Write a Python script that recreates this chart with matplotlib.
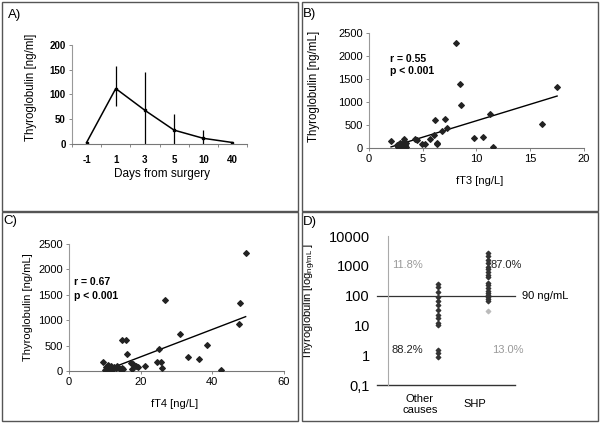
import matplotlib
matplotlib.use('Agg')
import matplotlib.pyplot as plt
from matplotlib.lines import Line2D
import matplotlib.transforms as mtransforms

plt.rcParams['font.family'] = ['Liberation Sans', 'DejaVu Sans']
plt.rcParams['mathtext.fontset'] = 'custom'
plt.rcParams['mathtext.rm'] = 'Liberation Sans'

# A) Tg after surgery
days = ['-1', '1', '3', '5', '10', '40']
tg_mean = [3, 112, 68, 28, 11.5, 3]
tg_low = [3, 76, 0, 0, 0, 3]
tg_high = [3, 157, 145, 60, 28, 3]

# B) fT3 vs Tg
ft3 = [2.05, 2.6, 2.7, 2.8, 2.85, 2.9, 3.0, 3.0, 3.1, 3.15, 3.2, 3.25, 3.3, 3.35, 3.4, 3.45,
       3.3, 4.3, 4.5, 4.9, 5.2, 5.7, 6.05, 6.1, 6.3, 6.35, 6.75, 7.05, 7.3, 8.05, 8.47, 8.6,
       9.8, 10.6, 11.3, 11.5, 16.1, 17.45]
tg_b = [150, 60, 30, 80, 20, 100, 50, 10, 70, 120, 40, 90, 20, 60, 110, 30,
        190, 200, 165, 85, 95, 195, 275, 610, 120, 90, 370, 630, 425, 2290, 1390, 935,
        225, 245, 740, 15, 515, 1330]
trend_b_x = [2.05, 17.5]
trend_b_y = [25, 1130]

# C) fT4 vs Tg
ft4 = [9.6, 10.0, 10.3, 10.6, 10.9, 11.2, 11.5, 11.8, 12.2, 12.6, 13.0, 13.5, 14.2, 14.7, 14.8,
       15.0, 15.8, 16.1, 17.3, 17.5, 18.0, 18.6, 19.2, 21.2, 24.5, 25.1, 25.8, 25.9, 26.8,
       31.0, 33.3, 36.4, 38.5, 42.4, 47.5, 47.7, 49.3]
tg_c = [183, 20, 80, 40, 120, 10, 60, 100, 30, 70, 50, 90, 40, 610, 60,
        30, 610, 335, 150, 40, 130, 100, 70, 105, 183, 427, 183, 50, 1398,
        735, 270, 230, 506, 26, 931, 1345, 2317]
trend_c_x = [13.3, 49.3]
trend_c_y = [98, 1070]

# D) Tg by diagnosis (log scale)
groups = ['Other\ncauses', 'SHP']
tg_other = [245, 190, 135, 91, 68, 48, 33, 22.6, 17.5, 12.3, 10.3, 1.5, 1.2, 0.9]
tg_shp = [2630, 2140, 1550, 1210, 935, 760, 630, 490, 428, 257, 228, 177, 148, 126, 105, 91, 75, 66]
tg_shp_below = [31]
cutoff = 100
cutoff_label = '90 ng/mL'
pct_labels = ['11.8%', '87.0%', '88.2%', '13.0%']

fig = plt.figure(figsize=(6, 4.23), dpi=100)

# panel frames
frame = '#555555'
for x0, y0, w, h in [(0.003, 0.502, 0.494, 0.494), (0.503, 0.502, 0.494, 0.494),
                     (0.003, 0.004, 0.494, 0.494), (0.503, 0.004, 0.494, 0.494)]:
    fig.add_artist(plt.Rectangle((x0, y0), w, h, transform=fig.transFigure,
                                 fill=False, ec=frame, lw=1.0))

def style(ax):
    for s in ['top', 'right']:
        ax.spines[s].set_visible(False)
    ax.spines['left'].set_color('#999999')
    ax.spines['bottom'].set_color('#777777')
    ax.spines['left'].set_linewidth(0.8)
    ax.spines['bottom'].set_linewidth(0.8)
    ax.tick_params(length=2.5, width=0.6, color='#777777', labelsize=8, pad=2)

# ---- A
axA = fig.add_axes([0.12, 0.6596, 0.2917, 0.234])
style(axA)
xs = list(range(len(days)))
axA.vlines(xs, tg_low, tg_high, color='black', lw=0.9)
axA.plot(xs, tg_mean, color='black', lw=1.1, marker='s', ms=2)
axA.set_xlim(-0.5, len(days) - 0.5)
axA.set_ylim(0, 200)
axA.set_yticks([0, 50, 100, 150, 200])
axA.set_xticks(xs)
axA.set_xticklabels(days)
axA.set_xticks([i - 0.5 for i in range(len(days) + 1)], minor=True)
axA.tick_params(axis='x', which='major', length=0, pad=8)
axA.tick_params(axis='x', which='minor', length=2.5, color='#777777')
for lab in axA.get_xticklabels() + axA.get_yticklabels():
    lab.set_fontweight('bold')
    lab.set_fontsize(7)
axA.set_ylabel('Thyroglobulin [ng/ml]', fontsize=8.3)
axA.yaxis.set_label_coords(-0.2, 0.57)
axA.set_xlabel('Days from surgery', fontsize=8.5)
axA.xaxis.set_label_coords(0.517, -0.242)

# ---- B
axB = fig.add_axes([0.615, 0.650, 0.3583, 0.272])
style(axB)
axB.scatter(ft3, tg_b, marker='D', s=8, color='#222222', zorder=3)
axB.plot(trend_b_x, trend_b_y, color='black', lw=1.0)
axB.set_xlim(0, 20)
axB.set_ylim(0, 2500)
axB.set_xticks([0, 5, 10, 15, 20])
axB.set_yticks([0, 500, 1000, 1500, 2000, 2500])
axB.set_ylabel('Thyroglobulin [ng/mL]', fontsize=8.3)
axB.yaxis.set_label_coords(-0.228, 0.54)
axB.set_xlabel('fT3 [ng/L]', fontsize=8)
axB.xaxis.set_label_coords(0.516, -0.243)
axB.text(2.0, 1930, 'r = 0.55', fontsize=7.5, fontweight='bold', va='center')
axB.text(2.0, 1680, 'p < 0.001', fontsize=7.5, fontweight='bold', va='center')

# ---- C
axC = fig.add_axes([0.115, 0.1229, 0.3583, 0.3003])
style(axC)
axC.scatter(ft4, tg_c, marker='D', s=8, color='#222222', zorder=3)
axC.plot(trend_c_x, trend_c_y, color='black', lw=1.0)
axC.set_xlim(0, 60)
axC.set_ylim(0, 2500)
axC.set_xticks([0, 20, 40, 60])
axC.set_yticks([0, 500, 1000, 1500, 2000, 2500])
axC.set_ylabel('Thyroglobulin [ng/mL]', fontsize=8)
axC.yaxis.set_label_coords(-0.167, 0.50)
axC.set_xlabel('fT4 [ng/L]', fontsize=8)
axC.xaxis.set_label_coords(0.49, -0.22)
axC.text(1.4, 1745, 'r = 0.67', fontsize=7.5, fontweight='bold', va='center')
axC.text(1.4, 1483, 'p < 0.001', fontsize=7.5, fontweight='bold', va='center')

# ---- D
axD = fig.add_axes([0.6467, 0.0898, 0.2117, 0.3522])
for s in ['top', 'right', 'bottom']:
    axD.spines[s].set_visible(False)
axD.spines['left'].set_color('#aaaaaa')
axD.spines['left'].set_linewidth(0.8)
axD.set_yscale('log')
axD.set_ylim(0.1, 10000)
axD.set_xlim(0, 2.55)
axD.set_yticks([0.1, 1, 10, 100, 1000, 10000])
axD.set_yticklabels(['0,1', '1', '10', '100', '1000', '10000'])
axD.yaxis.set_minor_locator(matplotlib.ticker.NullLocator())
axD.tick_params(axis='y', length=0, labelsize=10.5, pad=13)
axD.set_xticks([])
axD.scatter([1] * len(tg_other), tg_other, marker='D', s=5, color='#333333', zorder=3)
axD.scatter([2] * len(tg_shp), tg_shp, marker='D', s=5, color='#333333', zorder=3)
axD.scatter([2] * len(tg_shp_below), tg_shp_below, marker='D', s=5, color='#bbbbbb', zorder=3)
bt = mtransforms.blended_transform_factory(axD.transAxes, axD.transData)
axD.add_line(Line2D([-0.087, 1.0], [cutoff, cutoff], transform=bt, color='#333333',
                    lw=0.9, clip_on=False))
axD.add_line(Line2D([-0.087, 1.0], [0.1, 0.1], transform=bt, color='#333333',
                    lw=1.0, clip_on=False))
axD.text(1.055, cutoff, cutoff_label, transform=bt, fontsize=8, va='center')
axD.text(0.64, 0.05, groups[0], fontsize=8, ha='center', va='top', linespacing=1.1)
axD.text(1.75, 0.034, groups[1], fontsize=8, ha='center', va='top')
axD.text(0.08, 1100, pct_labels[0], fontsize=8, color='#999999', va='center')
axD.text(2.05, 1100, pct_labels[1], fontsize=8, color='#222222', va='center')
axD.text(0.07, 1.45, pct_labels[2], fontsize=8, color='#222222', va='center')
axD.text(2.08, 1.45, pct_labels[3], fontsize=8, color='#999999', va='center')
axD.set_ylabel('Thyroglobulin [log$_{\\mathrm{ng/mL}}$ ]', fontsize=8)
axD.yaxis.set_label_coords(-0.55, 0.56)

# panel letters
for x, y, t in [(0.013, 0.965, 'A)'), (0.505, 0.967, 'B)'), (0.006, 0.478, 'C)'), (0.505, 0.475, 'D)')]:
    fig.text(x, y, t, fontsize=9.5, va='center')

fig.savefig('out.png', dpi=100)
